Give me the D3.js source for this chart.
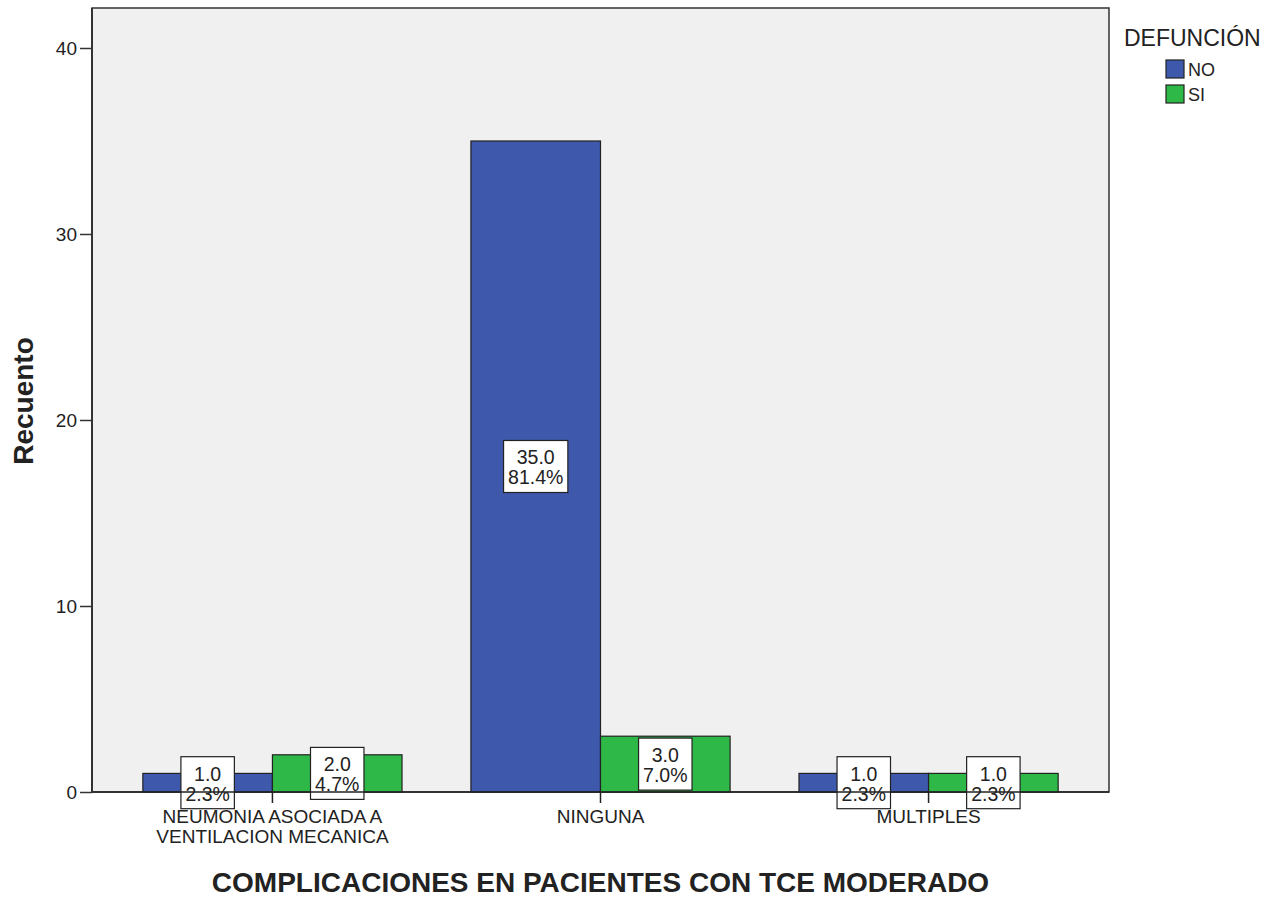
<!DOCTYPE html>
<html>
<head>
<meta charset="utf-8">
<script src="https://cdn.jsdelivr.net/npm/d3@7"></script>
<style>
  body { margin: 0; background: #fff; }
  text { font-family: "Liberation Sans", Arial, sans-serif; fill: #222; }
</style>
</head>
<body>
<svg id="chart" width="1278" height="898"></svg>
<script>
var categories = ['NEUMONIA ASOCIADA A VENTILACION MECANICA', 'NINGUNA', 'MULTIPLES'];
var categoryLines = [['NEUMONIA ASOCIADA A', 'VENTILACION MECANICA'], ['NINGUNA'], ['MULTIPLES']];
var series = ['NO', 'SI'];
var countNO = [1, 35, 1];
var countSI = [2, 3, 1];
var pctNO = [2.3, 81.4, 2.3];
var pctSI = [4.7, 7.0, 2.3];
var yTicks = [0, 10, 20, 30, 40];

var colors = { NO: '#3e58ac', SI: '#2eb848' };

var svg = d3.select('#chart');
var plotL = 92, plotR = 1109, plotT = 8, plotB = 792;

var rows = [];
categories.forEach(function(c, i) {
  rows.push({ cat: c, s: 'NO', v: countNO[i], p: pctNO[i] });
  rows.push({ cat: c, s: 'SI', v: countSI[i], p: pctSI[i] });
});

var x0 = d3.scaleBand().domain(categories).range([plotL, plotR])
    .paddingInner(0.21).paddingOuter(0.155);
var x1 = d3.scaleBand().domain(series).range([0, x0.bandwidth()]);
var y = d3.scaleLinear().domain([0, 42.15]).range([plotB, plotT]);

// plot background
svg.append('rect')
    .attr('x', plotL).attr('y', plotT)
    .attr('width', plotR - plotL).attr('height', plotB - plotT)
    .attr('fill', '#f0f0f0')
    .attr('stroke', '#333').attr('stroke-width', 1.5);

// bars
svg.append('g').selectAll('rect').data(rows).join('rect')
    .attr('x', function(d) { return x0(d.cat) + x1(d.s); })
    .attr('y', function(d) { return y(d.v); })
    .attr('width', x1.bandwidth())
    .attr('height', function(d) { return plotB - y(d.v); })
    .attr('fill', function(d) { return colors[d.s]; })
    .attr('stroke', '#222').attr('stroke-width', 1.2);

// value boxes
var labels = svg.append('g').selectAll('g').data(rows).join('g')
    .attr('transform', function(d) {
      return 'translate(' + (x0(d.cat) + x1(d.s) + x1.bandwidth() / 2) + ',' + y(d.v / 2) + ')';
    });

labels.each(function(d) {
  var g = d3.select(this);
  var t = g.append('text').attr('text-anchor', 'middle').style('font-size', '19.5px');
  t.append('tspan').attr('x', 0).attr('y', -2).text(d.v.toFixed(1));
  t.append('tspan').attr('x', 0).attr('y', 18).text(d.p.toFixed(1) + '%');
  var w = t.node().getBBox().width + 9;
  g.insert('rect', 'text')
      .attr('x', -w / 2).attr('y', -26)
      .attr('width', w).attr('height', 52)
      .attr('fill', '#fff').attr('stroke', '#222').attr('stroke-width', 1.2);
});

// y axis
var yAxis = svg.append('g')
    .attr('transform', 'translate(' + plotL + ',0)')
    .call(d3.axisLeft(y).tickValues(yTicks).tickSize(12).tickPadding(3).tickFormat(d3.format('d')));
yAxis.select('.domain').remove();
yAxis.selectAll('line').attr('stroke', '#333').attr('stroke-width', 1.5);
yAxis.selectAll('text').style('font-size', '19px').attr('fill', '#222');

// baseline on top of boxes
svg.append('line')
    .attr('x1', plotL).attr('x2', plotR)
    .attr('y1', plotB).attr('y2', plotB)
    .attr('stroke', '#222').attr('stroke-width', 1.5);
svg.append('line')
    .attr('x1', plotL).attr('x2', plotL)
    .attr('y1', plotT).attr('y2', plotB)
    .attr('stroke', '#333').attr('stroke-width', 2);

// x ticks + labels
var xg = svg.append('g').selectAll('g').data(categories).join('g')
    .attr('transform', function(d) { return 'translate(' + (x0(d) + x0.bandwidth() / 2) + ',' + plotB + ')'; });
xg.append('line').attr('y1', 0).attr('y2', 11).attr('stroke', '#222').attr('stroke-width', 1.5);
xg.append('text')
    .attr('text-anchor', 'middle')
    .style('font-size', '19px')
    .selectAll('tspan')
    .data(function(d, i) { return categoryLines[i]; })
    .join('tspan')
    .attr('x', 0)
    .attr('y', function(d, i) { return 31 + i * 20; })
    .text(function(d) { return d; });

// axis titles
svg.append('text')
    .attr('x', (plotL + plotR) / 2).attr('y', 892)
    .attr('text-anchor', 'middle')
    .style('font-size', '28px').style('font-weight', 'bold').attr('fill', '#111')
    .text('COMPLICACIONES EN PACIENTES CON TCE MODERADO');

svg.append('text')
    .attr('transform', 'translate(33,401) rotate(-90)')
    .attr('text-anchor', 'middle')
    .style('font-size', '28px').style('font-weight', 'bold').attr('fill', '#111')
    .text('Recuento');

// legend
var legend = svg.append('g');
legend.append('text')
    .attr('x', 1124).attr('y', 46)
    .style('font-size', '23px')
    .text('DEFUNCIÓN');
var li = legend.selectAll('g').data(series).join('g')
    .attr('transform', function(d, i) { return 'translate(1166,' + (60 + i * 25) + ')'; });
li.append('rect')
    .attr('width', 18).attr('height', 18)
    .attr('fill', function(d) { return colors[d]; })
    .attr('stroke', '#222').attr('stroke-width', 1.2);
li.append('text')
    .attr('x', 22).attr('y', 16)
    .style('font-size', '18px')
    .text(function(d) { return d; });
</script>
</body>
</html>
